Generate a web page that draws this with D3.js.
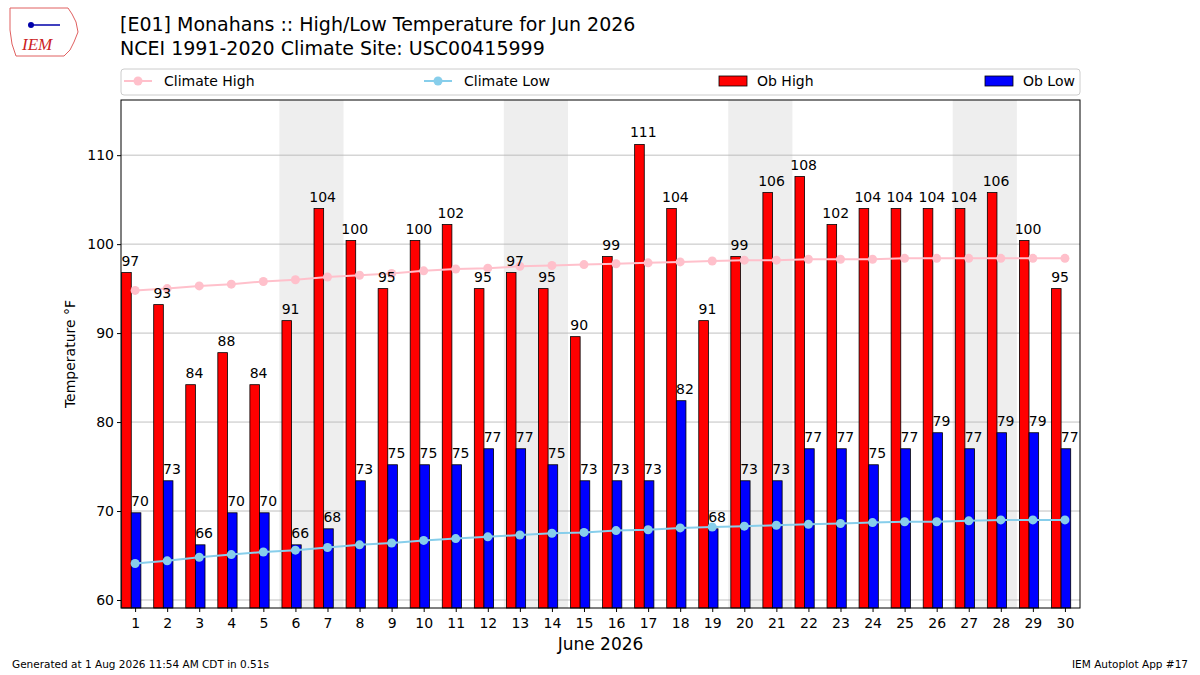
<!DOCTYPE html>
<html><head><meta charset="utf-8">
<script src="https://cdn.jsdelivr.net/npm/d3@7"></script>
<style>body{margin:0;background:#fff;font-family:"DejaVu Sans",sans-serif}</style>
</head><body><svg id="c" width="1200" height="675"></svg>
<script>
const days = d3.range(1,31);
const obHigh = [96.8,93.2,84.2,87.8,84.2,91.4,104,100.4,95,100.4,102.2,95,96.8,95,89.6,98.6,111.2,104,91.4,98.6,105.8,107.6,102.2,104,104,104,104,105.8,100.4,95];
const obLow = [69.8,73.4,66.2,69.8,69.8,66.2,68,73.4,75.2,75.2,75.2,77,77,75.2,73.4,73.4,73.4,82.4,68,73.4,73.4,77,77,75.2,77,78.8,77,78.8,78.8,77];
const climHigh = [94.8,95.0,95.3,95.5,95.8,96.0,96.3,96.5,96.7,97.0,97.2,97.3,97.5,97.6,97.7,97.8,97.9,98.0,98.1,98.2,98.2,98.3,98.3,98.3,98.4,98.4,98.4,98.4,98.4,98.4];
const climLow = [64.1,64.4,64.8,65.1,65.4,65.6,65.9,66.2,66.4,66.7,66.9,67.1,67.3,67.5,67.6,67.8,67.9,68.1,68.2,68.3,68.4,68.5,68.6,68.7,68.8,68.8,68.9,69.0,69.0,69.0];
const yTicks = [60,70,80,90,100,110];
const weekends = [[5.5,7.5],[12.5,14.5],[19.5,21.5],[26.5,28.5]];

const svg = d3.select("#c");
const L=121,R=1080,T=100,B=608;
const x = d3.scaleLinear().domain([0.56,30.47]).range([L,R]);
const y = d3.scaleLinear().domain([59.1,116.2]).range([B,T]);
const pw = x(1)-x(0);

svg.selectAll(".we").data(weekends).join("rect").attr("x",d=>x(d[0])).attr("width",d=>x(d[1])-x(d[0]))
  .attr("y",T).attr("height",B-T).attr("fill","#eeeeee");
svg.selectAll(".gl").data(yTicks).join("line").attr("x1",L).attr("x2",R).attr("y1",d=>y(d)).attr("y2",d=>y(d)).attr("stroke","#b0b0b0").attr("stroke-width",0.8);

const bw = 0.3*pw;
svg.selectAll(".hb").data(days).join("rect").attr("x",d=>x(d-0.42)).attr("width",bw)
 .attr("y",(d,i)=>y(obHigh[i])).attr("height",(d,i)=>B-y(obHigh[i])).attr("fill","#ff0000").attr("stroke","#000").attr("stroke-width",0.8);
svg.selectAll(".lb").data(days).join("rect").attr("x",d=>x(d-0.12)).attr("width",bw)
 .attr("y",(d,i)=>y(obLow[i])).attr("height",(d,i)=>B-y(obLow[i])).attr("fill","#0000ff").attr("stroke","#000").attr("stroke-width",0.8);

function clim(vals,col){
  svg.append("path").datum(vals).attr("fill","none").attr("stroke",col).attr("stroke-width",2)
    .attr("d",d3.line().x((d,i)=>x(days[i])).y(d=>y(d)));
  svg.selectAll(null).data(vals).join("circle").attr("cx",(d,i)=>x(days[i])).attr("cy",d=>y(d)).attr("r",4.5).attr("fill",col);
}
clim(climHigh,"pink"); clim(climLow,"skyblue");

svg.selectAll(".ht").data(days).join("text").attr("x",d=>x(d-0.15)).attr("y",(d,i)=>y(obHigh[i])-7)
 .attr("text-anchor","middle").attr("font-size",14).text((d,i)=>Math.round(obHigh[i]));
svg.selectAll(".lt").data(days).join("text").attr("x",d=>x(d+0.15)).attr("y",(d,i)=>y(obLow[i])-7)
 .attr("text-anchor","middle").attr("font-size",14).text((d,i)=>Math.round(obLow[i]));

svg.append("rect").attr("x",L).attr("y",T).attr("width",R-L).attr("height",B-T).attr("fill","none").attr("stroke","#000");

const ya = svg.append("g").attr("transform",`translate(${L},0)`).call(d3.axisLeft(y).tickValues(yTicks).tickSize(4));
const xa = svg.append("g").attr("transform",`translate(0,${B})`).call(d3.axisBottom(x).tickValues(days).tickFormat(d3.format("d")).tickSize(4));
[ya,xa].forEach(g=>{g.select(".domain").remove();g.selectAll("text").attr("font-size",14).attr("font-family","DejaVu Sans").attr("fill","#000");g.selectAll("line").attr("stroke","#000");});
xa.selectAll("text").attr("dy","0.9em");

svg.append("text").attr("transform",`translate(75,${(T+B)/2}) rotate(-90)`).attr("text-anchor","middle").attr("font-size",14).text("Temperature °F");
svg.append("text").attr("x",(L+R)/2).attr("y",650).attr("text-anchor","middle").attr("font-size",17).text("June 2026");

svg.append("text").attr("x",120).attr("y",31).attr("font-size",19).text("[E01] Monahans :: High/Low Temperature for Jun 2026");
svg.append("text").attr("x",120).attr("y",55).attr("font-size",19).text("NCEI 1991-2020 Climate Site: USC00415999");

const lg = svg.append("g");
lg.append("rect").attr("x",L).attr("y",69).attr("width",R-L).attr("height",26).attr("fill","#fff").attr("stroke","#ccc").attr("rx",3);
function lline(x0,col,label){
  lg.append("line").attr("x1",x0).attr("x2",x0+28).attr("y1",81).attr("y2",81).attr("stroke",col).attr("stroke-width",2);
  lg.append("circle").attr("cx",x0+14).attr("cy",81).attr("r",4.5).attr("fill",col);
  lg.append("text").attr("x",x0+40).attr("y",86).attr("font-size",14).text(label);
}
function lbox(x0,col,label){
  lg.append("rect").attr("x",x0).attr("y",76).attr("width",28).attr("height",10).attr("fill",col).attr("stroke","#000").attr("stroke-width",0.8);
  lg.append("text").attr("x",x0+38).attr("y",86).attr("font-size",14).text(label);
}
lline(124,"pink","Climate High"); lline(424,"skyblue","Climate Low");
lbox(719,"#ff0000","Ob High"); lbox(985,"#0000ff","Ob Low");

svg.append("text").attr("x",12).attr("y",668).attr("font-size",10.5).text("Generated at 1 Aug 2026 11:54 AM CDT in 0.51s");
svg.append("text").attr("x",1188).attr("y",668).attr("text-anchor","end").attr("font-size",10.5).text("IEM Autoplot App #17");

const lo = svg.append("g");
lo.append("path").attr("d","M10,8 L68,8 L72,14 L76,22 L78,32 L74,42 L70,50 L64,56 L16,56 L12,44 L10,30 Z").attr("fill","none").attr("stroke","#e06060").attr("stroke-width",1);
lo.append("line").attr("x1",30).attr("x2",60).attr("y1",25).attr("y2",25).attr("stroke","#0000aa").attr("stroke-width",1.5);
lo.append("circle").attr("cx",31).attr("cy",25).attr("r",3).attr("fill","#0000aa");
lo.append("text").attr("x",22).attr("y",50).attr("font-family","Liberation Serif").attr("font-style","italic").attr("font-size",17).attr("fill","#cc2222").text("IEM");
</script></body></html>
